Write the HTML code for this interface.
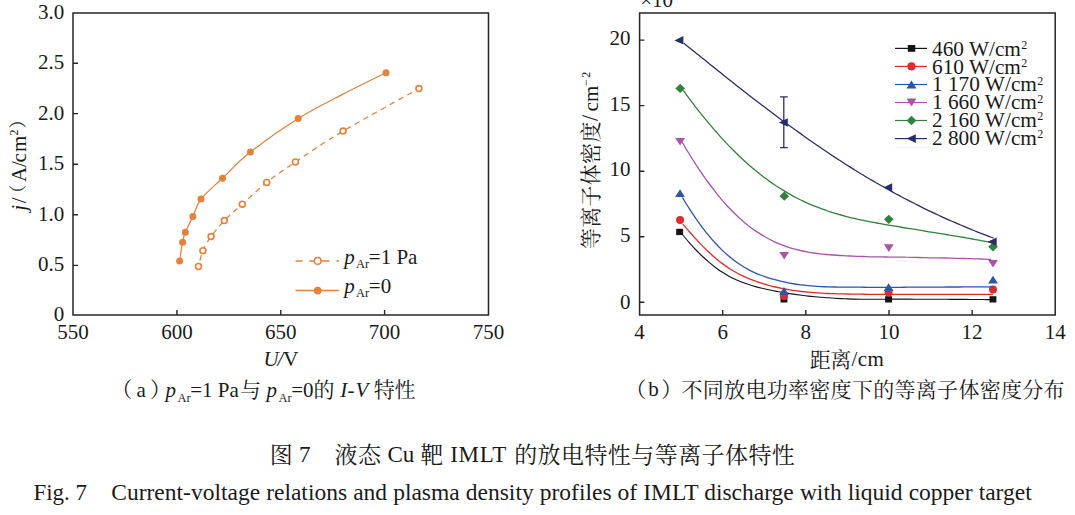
<!DOCTYPE html>
<html><head><meta charset="utf-8"><title>Fig. 7</title>
<style>
html,body{margin:0;padding:0;background:#fff;}
svg{display:block;}
text{font-family:"Liberation Serif","Noto Serif CJK SC",serif;fill:#1a1a1a;}
</style></head><body>
<svg width="1075" height="515" viewBox="0 0 1075 515">
<desc>图 7 液态 Cu 靶 IMLT 的放电特性与等离子体特性; (a) pAr=1 Pa与pAr=0的I-V特性; (b) 不同放电功率密度下的等离子体密度分布; 等离子体密度/cm-2; 距离/cm</desc>
<rect width="1075" height="515" fill="#fff"/>
<rect x="73.0" y="13.0" width="415.5" height="302.0" fill="none" stroke="#262626" stroke-width="1.5"/>
<path d="M73.0 265.4h5M73.0 214.8h5M73.0 164.3h5M73.0 113.6h5M73.0 63.3h5M176.9 315.0v-5M280.8 315.0v-5M384.6 315.0v-5" stroke="#262626" stroke-width="1.4" fill="none"/>
<text x="64.2" y="321.2" style="font-size:21px;" text-anchor="end">0</text>
<text x="64.2" y="270.9" style="font-size:21px;" text-anchor="end">0.5</text>
<text x="64.2" y="220.5" style="font-size:21px;" text-anchor="end">1.0</text>
<text x="64.2" y="170.2" style="font-size:21px;" text-anchor="end">1.5</text>
<text x="64.2" y="119.9" style="font-size:21px;" text-anchor="end">2.0</text>
<text x="64.2" y="68.7" style="font-size:21px;" text-anchor="end">2.5</text>
<text x="64.2" y="19.2" style="font-size:21px;" text-anchor="end">3.0</text>
<text x="73.0" y="338.6" style="font-size:21px;" text-anchor="middle">550</text>
<text x="176.9" y="338.6" style="font-size:21px;" text-anchor="middle">600</text>
<text x="280.8" y="338.6" style="font-size:21px;" text-anchor="middle">650</text>
<text x="384.6" y="338.6" style="font-size:21px;" text-anchor="middle">700</text>
<text x="488.5" y="338.6" style="font-size:21px;" text-anchor="middle">750</text>
<path d="M386 72.8C378.8 76.4 357.1 86.8 342.5 94.4C327.9 102.0 313.6 108.9 298.2 118.5C282.8 128.1 263.0 142.2 250.4 152.1C237.8 162.0 230.7 170.4 222.5 178.2C214.3 186.0 205.9 192.7 201 199.1C196.1 205.5 195.5 211.1 192.9 216.6C190.3 222.1 187.0 228.0 185.3 232.3C183.6 236.6 183.6 237.4 182.6 242.2C181.6 247.0 180.1 257.8 179.6 260.9" fill="none" stroke="#e5813b" stroke-width="1.25"/>
<path d="M418.9 88.6C406.3 95.7 363.7 118.9 343.1 131.1C322.5 143.3 308.1 153.4 295.4 162C282.7 170.6 275.5 175.5 266.7 182.5C257.9 189.5 249.4 197.8 242.3 204.2C235.2 210.5 229.5 215.2 224.3 220.6C219.1 226.0 214.7 231.6 211.1 236.6C207.5 241.6 205.0 245.7 202.9 250.7C200.8 255.7 199.2 263.9 198.5 266.5" fill="none" stroke="#e5813b" stroke-width="1.25" stroke-dasharray="5.5 4.5" stroke-dashoffset="2"/>
<circle cx="386" cy="72.8" r="3.5" fill="#e5813b"/>
<circle cx="298.2" cy="118.5" r="3.5" fill="#e5813b"/>
<circle cx="250.4" cy="152.1" r="3.5" fill="#e5813b"/>
<circle cx="222.5" cy="178.2" r="3.5" fill="#e5813b"/>
<circle cx="201" cy="199.1" r="3.5" fill="#e5813b"/>
<circle cx="192.9" cy="216.6" r="3.5" fill="#e5813b"/>
<circle cx="185.3" cy="232.3" r="3.5" fill="#e5813b"/>
<circle cx="182.6" cy="242.2" r="3.5" fill="#e5813b"/>
<circle cx="179.6" cy="260.9" r="3.5" fill="#e5813b"/>
<circle cx="418.9" cy="88.6" r="2.95" fill="#fff" stroke="#e5813b" stroke-width="1.6"/>
<circle cx="343.1" cy="131.1" r="2.95" fill="#fff" stroke="#e5813b" stroke-width="1.6"/>
<circle cx="295.4" cy="162" r="2.95" fill="#fff" stroke="#e5813b" stroke-width="1.6"/>
<circle cx="266.7" cy="182.5" r="2.95" fill="#fff" stroke="#e5813b" stroke-width="1.6"/>
<circle cx="242.3" cy="204.2" r="2.95" fill="#fff" stroke="#e5813b" stroke-width="1.6"/>
<circle cx="224.3" cy="220.6" r="2.95" fill="#fff" stroke="#e5813b" stroke-width="1.6"/>
<circle cx="211.1" cy="236.6" r="2.95" fill="#fff" stroke="#e5813b" stroke-width="1.6"/>
<circle cx="202.9" cy="250.7" r="2.95" fill="#fff" stroke="#e5813b" stroke-width="1.6"/>
<circle cx="198.5" cy="266.5" r="2.95" fill="#fff" stroke="#e5813b" stroke-width="1.6"/>
<path d="M295.5 260.9h7M309.5 260.9h20M336.5 260.9h2.5M295.5 290.6h43.5" stroke="#e5813b" stroke-width="1.5" fill="none"/>
<circle cx="317.7" cy="260.9" r="3.3" fill="#fff" stroke="#e5813b" stroke-width="1.5"/>
<circle cx="317.7" cy="290.6" r="3.9" fill="#e5813b"/>
<text x="344.2" y="263.8" style="font-size:21px;font-style:italic;">p</text>
<text x="356.0" y="268.1" style="font-size:12.5px;">Ar</text>
<text x="368.8" y="263.8" style="font-size:21px;">=1 Pa</text>
<text x="344.2" y="293.0" style="font-size:21px;font-style:italic;">p</text>
<text x="356.0" y="297.3" style="font-size:12.5px;">Ar</text>
<text x="368.8" y="293.0" style="font-size:21px;">=0</text>
<g transform="translate(25.6,212) rotate(-90)">
<text x="1.3" y="0" style="font-size:21px;font-style:italic;">j</text>
<text x="8.7" y="0" style="font-size:21px;">/</text>
<text x="30.0" y="0" style="font-size:21px;">A</text>
<text x="44.9" y="0" style="font-size:21px;">/</text>
<text x="49.6" y="0" style="font-size:21px;">c</text>
<text x="59.9" y="0" style="font-size:21px;">m</text>
<text x="76.4" y="-7.5" style="font-size:12px;">2</text>
</g>
<text transform="translate(24.0,202.6) rotate(-90)" x="0" y="0" style="font-size:18px;">（</text>
<text transform="translate(24.0,128.4) rotate(-90)" x="0" y="0" style="font-size:18px;">）</text>
<text x="263.4" y="366.0" style="font-size:21px;font-style:italic;">U</text>
<text x="277.6" y="366.0" style="font-size:21px;font-style:italic;">/</text>
<text x="283.0" y="366.0" style="font-size:21.5px;">V</text>
<text x="111.33" y="397.4" style="font-size:21px;">（</text>
<text x="136.4" y="396.6" style="font-size:21px;">a</text>
<text x="150.08" y="397.4" style="font-size:21px;">）</text>
<text x="165.6" y="396.6" style="font-size:21px;font-style:italic;">p</text>
<text x="177.4" y="402.0" style="font-size:12.5px;">Ar</text>
<text x="190.2" y="396.6" style="font-size:21px;">=1 Pa</text>
<text x="240.06" y="397.4" style="font-size:21px;">与</text>
<text x="266.6" y="396.6" style="font-size:21px;font-style:italic;">p</text>
<text x="278.4" y="402.0" style="font-size:12.5px;">Ar</text>
<text x="291.2" y="396.6" style="font-size:21px;">=0</text>
<text x="313.51" y="397.4" style="font-size:21px;">的</text>
<text x="340.2" y="396.6" style="font-size:21px;font-style:italic;">I</text>
<text x="347.6" y="396.6" style="font-size:21px;font-style:italic;">-</text>
<text x="355.4" y="396.6" style="font-size:21px;font-style:italic;">V</text>
<text x="373.63" y="397.4" style="font-size:21px;" letter-spacing="-0.17">特性</text>
<rect x="639.6" y="13.0" width="415.6" height="302.0" fill="none" stroke="#262626" stroke-width="1.5"/>
<path d="M639.6 302.2h4.8M639.6 236.7h4.8M639.6 171.2h4.8M639.6 105.6h4.8M639.6 40.1h4.8M722.7 315.0v-5M805.8 315.0v-5M889.0 315.0v-5M972.1 315.0v-5" stroke="#262626" stroke-width="1.4" fill="none"/>
<text x="630.6" y="308.6" style="font-size:21px;" text-anchor="end">0</text>
<text x="630.6" y="241.9" style="font-size:21px;" text-anchor="end">5</text>
<text x="630.6" y="176.3" style="font-size:21px;" text-anchor="end">10</text>
<text x="630.6" y="110.8" style="font-size:21px;" text-anchor="end">15</text>
<text x="630.6" y="45.3" style="font-size:21px;" text-anchor="end">20</text>
<text x="639.6" y="338.6" style="font-size:21px;" text-anchor="middle">4</text>
<text x="722.7" y="338.6" style="font-size:21px;" text-anchor="middle">6</text>
<text x="805.8" y="338.6" style="font-size:21px;" text-anchor="middle">8</text>
<text x="889.0" y="338.6" style="font-size:21px;" text-anchor="middle">10</text>
<text x="972.1" y="338.6" style="font-size:21px;" text-anchor="middle">12</text>
<text x="1055.2" y="338.6" style="font-size:21px;" text-anchor="middle">14</text>
<text x="640.2" y="7.0" style="font-size:21px;">×10</text>
<path d="M682.8 235.0C683.9 236.3 687.2 240.3 689.4 242.8C691.6 245.3 693.8 247.7 696.0 250.0C698.2 252.3 700.4 254.4 702.6 256.5C704.8 258.6 707.0 260.5 709.2 262.4C711.4 264.3 713.6 266.0 715.8 267.7C718.0 269.4 720.2 270.9 722.4 272.3C724.6 273.7 726.8 275.0 729.0 276.2C731.2 277.4 733.4 278.5 735.6 279.5C737.8 280.5 740.0 281.4 742.2 282.3C744.4 283.2 746.6 283.9 748.8 284.6C751.0 285.3 753.2 286.0 755.4 286.6C757.6 287.2 759.8 287.7 762.0 288.2C764.2 288.7 766.4 289.2 768.6 289.7C770.8 290.2 773.0 290.7 775.2 291.1C777.4 291.5 779.6 291.9 781.8 292.3C784.0 292.7 786.2 293.0 788.4 293.4C790.6 293.8 792.8 294.1 795.0 294.4C797.2 294.7 799.4 295.0 801.6 295.3C803.8 295.6 806.0 295.9 808.2 296.1C810.4 296.4 812.6 296.6 814.8 296.8C817.0 297.0 819.2 297.1 821.4 297.3C823.6 297.5 825.8 297.6 828.0 297.8C830.2 298.0 832.4 298.2 834.6 298.3C836.8 298.4 839.0 298.5 841.2 298.6C843.4 298.7 845.6 298.8 847.8 298.9C850.0 299.0 852.2 299.1 854.4 299.1C856.6 299.2 858.8 299.2 861.0 299.2C863.2 299.2 865.4 299.3 867.6 299.3C869.8 299.3 872.0 299.3 874.2 299.3C876.4 299.3 878.6 299.2 880.8 299.2C883.0 299.2 885.2 299.2 887.4 299.2C889.6 299.2 891.8 299.1 894.0 299.1C896.2 299.1 898.4 299.1 900.6 299.1C902.8 299.1 905.0 299.1 907.2 299.1C909.4 299.1 911.6 299.2 913.8 299.2C916.0 299.2 918.2 299.2 920.4 299.2C922.6 299.2 924.8 299.2 927.0 299.2C929.2 299.2 931.4 299.3 933.6 299.3C935.8 299.3 938.0 299.3 940.2 299.3C942.4 299.3 944.6 299.3 946.8 299.3C949.0 299.3 951.2 299.4 953.4 299.4C955.6 299.4 957.8 299.4 960.0 299.4C962.2 299.4 964.4 299.4 966.6 299.4C968.8 299.4 971.0 299.5 973.2 299.5C975.4 299.5 977.6 299.5 979.8 299.5C982.0 299.5 984.2 299.6 986.4 299.6C988.6 299.6 991.9 299.6 993.0 299.6" fill="none" stroke="#141414" stroke-width="1.1"/>
<rect x="676.2" y="228.8" width="6.9" height="6.3" fill="#141414"/>
<rect x="780.5" y="296.2" width="6.9" height="6.3" fill="#141414"/>
<rect x="885.1" y="296.2" width="6.9" height="6.3" fill="#141414"/>
<rect x="989.5" y="296.2" width="6.9" height="6.3" fill="#141414"/>
<path d="M682.8 224.1C683.9 225.4 687.2 229.3 689.4 231.8C691.6 234.3 693.8 236.7 696.0 239.1C698.2 241.5 700.4 243.9 702.6 246.1C704.8 248.3 707.0 250.4 709.2 252.5C711.4 254.6 713.6 256.5 715.8 258.4C718.0 260.2 720.2 262.0 722.4 263.6C724.6 265.2 726.8 266.8 729.0 268.2C731.2 269.6 733.4 271.0 735.6 272.2C737.8 273.4 740.0 274.5 742.2 275.6C744.4 276.7 746.6 277.7 748.8 278.6C751.0 279.5 753.2 280.4 755.4 281.2C757.6 282.0 759.8 282.7 762.0 283.4C764.2 284.1 766.4 284.7 768.6 285.3C770.8 285.9 773.0 286.5 775.2 287.0C777.4 287.5 779.6 288.0 781.8 288.4C784.0 288.8 786.2 289.2 788.4 289.6C790.6 290.0 792.8 290.3 795.0 290.6C797.2 290.9 799.4 291.2 801.6 291.5C803.8 291.8 806.0 292.0 808.2 292.2C810.4 292.4 812.6 292.5 814.8 292.7C817.0 292.9 819.2 293.0 821.4 293.1C823.6 293.2 825.8 293.4 828.0 293.5C830.2 293.6 832.4 293.6 834.6 293.7C836.8 293.8 839.0 293.8 841.2 293.9C843.4 293.9 845.6 294.0 847.8 294.0C850.0 294.0 852.2 294.1 854.4 294.1C856.6 294.1 858.8 294.2 861.0 294.2C863.2 294.2 865.4 294.3 867.6 294.3C869.8 294.3 872.0 294.3 874.2 294.3C876.4 294.3 878.6 294.4 880.8 294.4C883.0 294.4 885.2 294.4 887.4 294.4C889.6 294.4 891.8 294.4 894.0 294.4C896.2 294.4 898.4 294.4 900.6 294.4C902.8 294.4 905.0 294.4 907.2 294.4C909.4 294.4 911.6 294.4 913.8 294.4C916.0 294.4 918.2 294.4 920.4 294.4C922.6 294.4 924.8 294.4 927.0 294.4C929.2 294.4 931.4 294.4 933.6 294.4C935.8 294.4 938.0 294.4 940.2 294.4C942.4 294.4 944.6 294.4 946.8 294.4C949.0 294.4 951.2 294.4 953.4 294.4C955.6 294.4 957.8 294.4 960.0 294.4C962.2 294.4 964.4 294.4 966.6 294.4C968.8 294.4 971.0 294.4 973.2 294.4C975.4 294.4 977.6 294.4 979.8 294.4C982.0 294.4 984.2 294.4 986.4 294.4C988.6 294.4 991.9 294.4 993.0 294.4" fill="none" stroke="#df2b2e" stroke-width="1.3"/>
<circle cx="680.05" cy="220.1" r="4.0" fill="#df2b2e"/>
<circle cx="784" cy="296.0" r="4.0" fill="#df2b2e"/>
<circle cx="888.6" cy="292.4" r="4.0" fill="#df2b2e"/>
<circle cx="993" cy="289.4" r="4.0" fill="#df2b2e"/>
<path d="M682.4 197.5C683.5 199.3 686.8 204.8 689.0 208.2C691.2 211.6 693.4 215.0 695.6 218.2C697.8 221.4 700.0 224.4 702.2 227.3C704.4 230.2 706.6 233.0 708.8 235.7C711.0 238.4 713.2 240.9 715.4 243.3C717.6 245.7 719.9 248.0 722.1 250.1C724.3 252.2 726.5 254.2 728.7 256.1C730.9 258.0 733.1 259.7 735.3 261.3C737.5 262.9 739.7 264.4 741.9 265.8C744.1 267.2 746.3 268.4 748.5 269.6C750.7 270.8 752.9 271.8 755.1 272.8C757.3 273.8 759.5 274.7 761.7 275.5C763.9 276.3 766.1 277.1 768.3 277.8C770.5 278.5 772.7 279.1 774.9 279.7C777.1 280.3 779.3 280.9 781.5 281.4C783.7 281.9 785.9 282.4 788.1 282.8C790.3 283.2 792.5 283.6 794.7 284.0C796.9 284.4 799.2 284.6 801.4 284.9C803.6 285.2 805.8 285.4 808.0 285.6C810.2 285.8 812.4 286.0 814.6 286.2C816.8 286.4 819.0 286.5 821.2 286.6C823.4 286.7 825.6 286.8 827.8 286.9C830.0 287.0 832.2 287.0 834.4 287.0C836.6 287.0 838.8 287.1 841.0 287.1C843.2 287.1 845.4 287.2 847.6 287.2C849.8 287.2 852.0 287.2 854.2 287.2C856.4 287.2 858.6 287.2 860.8 287.2C863.0 287.2 865.2 287.3 867.4 287.3C869.6 287.3 871.8 287.3 874.0 287.3C876.2 287.3 878.5 287.3 880.7 287.3C882.9 287.3 885.1 287.3 887.3 287.3C889.5 287.3 891.7 287.3 893.9 287.3C896.1 287.3 898.3 287.3 900.5 287.3C902.7 287.3 904.9 287.2 907.1 287.2C909.3 287.2 911.5 287.2 913.7 287.2C915.9 287.2 918.1 287.2 920.3 287.2C922.5 287.2 924.7 287.1 926.9 287.1C929.1 287.1 931.3 287.1 933.5 287.1C935.7 287.1 937.9 287.1 940.1 287.1C942.3 287.1 944.5 287.0 946.7 287.0C948.9 287.0 951.1 287.0 953.3 287.0C955.5 287.0 957.8 287.0 960.0 287.0C962.2 287.0 964.4 286.9 966.6 286.9C968.8 286.9 971.0 286.9 973.2 286.9C975.4 286.9 977.6 286.8 979.8 286.8C982.0 286.8 984.2 286.8 986.4 286.8C988.6 286.8 991.9 286.8 993.0 286.8" fill="none" stroke="#2b55a6" stroke-width="1.3"/>
<path d="M680.05 189.3L684.9 197.1H675.1Z" fill="#2b55a6"/>
<path d="M784 287.0L788.9 294.8H779.1Z" fill="#2b55a6"/>
<path d="M888.6 283.2L893.5 291.0H883.7Z" fill="#2b55a6"/>
<path d="M993 275.8L997.9 283.6H988.1Z" fill="#2b55a6"/>
<path d="M682.0 142.0C683.1 143.8 686.4 149.4 688.6 153.0C690.8 156.6 692.9 160.0 695.1 163.4C697.3 166.8 699.5 170.1 701.7 173.3C703.9 176.5 706.1 179.5 708.3 182.5C710.5 185.5 712.7 188.4 714.9 191.2C717.1 194.0 719.2 196.7 721.4 199.3C723.6 201.9 725.8 204.3 728.0 206.7C730.2 209.1 732.4 211.3 734.6 213.5C736.8 215.7 739.0 217.7 741.2 219.6C743.4 221.5 745.5 223.4 747.7 225.2C749.9 226.9 752.1 228.6 754.3 230.1C756.5 231.6 758.7 233.0 760.9 234.4C763.1 235.8 765.3 237.1 767.5 238.3C769.7 239.5 771.8 240.6 774.0 241.6C776.2 242.6 778.4 243.5 780.6 244.4C782.8 245.3 785.0 246.1 787.2 246.8C789.4 247.5 791.6 248.2 793.8 248.8C796.0 249.4 798.1 250.0 800.3 250.5C802.5 251.0 804.7 251.5 806.9 251.9C809.1 252.3 811.3 252.7 813.5 253.0C815.7 253.3 817.9 253.6 820.1 253.8C822.3 254.1 824.4 254.3 826.6 254.5C828.8 254.7 831.0 254.8 833.2 255.0C835.4 255.2 837.6 255.4 839.8 255.5C842.0 255.6 844.2 255.7 846.4 255.8C848.6 255.9 850.7 256.1 852.9 256.2C855.1 256.3 857.3 256.3 859.5 256.4C861.7 256.5 863.9 256.5 866.1 256.6C868.3 256.7 870.5 256.8 872.7 256.8C874.9 256.9 877.0 256.9 879.2 256.9C881.4 256.9 883.6 257.0 885.8 257.0C888.0 257.0 890.2 257.1 892.4 257.1C894.6 257.1 896.8 257.1 899.0 257.1C901.2 257.1 903.3 257.1 905.5 257.2C907.7 257.2 909.9 257.3 912.1 257.4C914.3 257.4 916.5 257.5 918.7 257.5C920.9 257.5 923.1 257.6 925.3 257.6C927.5 257.7 929.6 257.8 931.8 257.8C934.0 257.9 936.2 257.9 938.4 257.9C940.6 257.9 942.8 257.9 945.0 258.0C947.2 258.1 949.4 258.1 951.6 258.2C953.8 258.3 955.9 258.3 958.1 258.4C960.3 258.4 962.5 258.4 964.7 258.5C966.9 258.6 969.1 258.6 971.3 258.7C973.5 258.8 975.7 258.8 977.9 258.9C980.1 259.0 982.2 259.0 984.4 259.1C986.6 259.2 989.9 259.3 991.0 259.3" fill="none" stroke="#a855a8" stroke-width="1.3"/>
<path d="M680.1 145.6L685.0 138.0H675.2Z" fill="#a855a8"/>
<path d="M784.2 259.5L789.1 251.9H779.3Z" fill="#a855a8"/>
<path d="M888.8 251.9L893.7 244.3H883.9Z" fill="#a855a8"/>
<path d="M993 267.5L997.9 259.9H988.1Z" fill="#a855a8"/>
<path d="M683.2 90.4C684.3 91.9 687.6 96.4 689.8 99.3C692.0 102.2 694.1 105.1 696.3 107.9C698.5 110.7 700.7 113.5 702.9 116.2C705.1 118.9 707.3 121.5 709.5 124.1C711.7 126.7 713.9 129.3 716.1 131.8C718.3 134.3 720.4 136.7 722.6 139.1C724.8 141.5 727.0 143.8 729.2 146.1C731.4 148.4 733.6 150.5 735.8 152.7C738.0 154.8 740.1 157.0 742.3 159.0C744.5 161.0 746.7 163.0 748.9 164.9C751.1 166.8 753.3 168.7 755.5 170.5C757.7 172.3 759.8 174.0 762.0 175.7C764.2 177.4 766.4 179.0 768.6 180.6C770.8 182.2 773.0 183.7 775.2 185.2C777.4 186.7 779.6 188.0 781.8 189.4C784.0 190.8 786.1 192.1 788.3 193.4C790.5 194.7 792.7 195.8 794.9 197.0C797.1 198.2 799.3 199.2 801.5 200.3C803.7 201.4 805.8 202.4 808.0 203.4C810.2 204.4 812.4 205.3 814.6 206.2C816.8 207.1 819.0 207.9 821.2 208.7C823.4 209.5 825.5 210.3 827.7 211.0C829.9 211.7 832.1 212.4 834.3 213.1C836.5 213.8 838.7 214.4 840.9 215.0C843.1 215.6 845.3 216.2 847.5 216.8C849.7 217.4 851.8 217.9 854.0 218.4C856.2 218.9 858.4 219.3 860.6 219.8C862.8 220.3 865.0 220.8 867.2 221.2C869.4 221.6 871.5 222.0 873.7 222.4C875.9 222.8 878.1 223.2 880.3 223.6C882.5 224.0 884.7 224.4 886.9 224.8C889.1 225.2 891.2 225.5 893.4 225.9C895.6 226.3 897.8 226.6 900.0 227.0C902.2 227.4 904.4 227.8 906.6 228.1C908.8 228.4 911.0 228.8 913.2 229.1C915.4 229.4 917.5 229.8 919.7 230.2C921.9 230.6 924.1 231.0 926.3 231.3C928.5 231.7 930.7 232.0 932.9 232.3C935.1 232.7 937.2 233.0 939.4 233.4C941.6 233.8 943.8 234.1 946.0 234.5C948.2 234.9 950.4 235.2 952.6 235.6C954.8 236.0 956.9 236.3 959.1 236.7C961.3 237.1 963.5 237.4 965.7 237.8C967.9 238.2 970.1 238.6 972.3 239.0C974.5 239.4 976.7 239.8 978.9 240.2C981.1 240.6 983.2 241.0 985.4 241.4C987.6 241.8 990.9 242.5 992.0 242.7" fill="none" stroke="#33803f" stroke-width="1.3"/>
<path d="M680.2 83.8L685.0 88.4L680.2 93.0L675.4 88.4Z" fill="#33803f"/>
<path d="M784.3 191.6L789.1 196.2L784.3 200.8L779.5 196.2Z" fill="#33803f"/>
<path d="M888.8 214.7L893.6 219.3L888.8 223.9L884.0 219.3Z" fill="#33803f"/>
<path d="M993 242.2L997.8 246.8L993 251.4L988.2 246.8Z" fill="#33803f"/>
<path d="M683.7 43.1C684.8 44.0 688.1 46.6 690.3 48.4C692.5 50.2 694.7 52.0 696.9 53.8C699.1 55.6 701.3 57.3 703.5 59.1C705.7 60.9 707.9 62.6 710.1 64.4C712.3 66.2 714.5 67.9 716.7 69.7C718.9 71.5 721.1 73.2 723.3 75.0C725.5 76.8 727.7 78.5 729.9 80.2C732.1 81.9 734.2 83.7 736.4 85.4C738.6 87.1 740.8 88.9 743.0 90.6C745.2 92.3 747.4 94.0 749.6 95.7C751.8 97.4 754.0 99.1 756.2 100.8C758.4 102.5 760.6 104.1 762.8 105.8C765.0 107.5 767.2 109.1 769.4 110.8C771.6 112.5 773.8 114.1 776.0 115.8C778.2 117.5 780.4 119.1 782.6 120.7C784.8 122.3 787.0 123.9 789.2 125.5C791.4 127.1 793.6 128.7 795.8 130.3C798.0 131.9 800.2 133.4 802.4 135.0C804.6 136.6 806.8 138.2 809.0 139.7C811.2 141.2 813.4 142.7 815.6 144.2C817.8 145.7 820.0 147.3 822.2 148.8C824.4 150.3 826.6 151.7 828.8 153.2C831.0 154.7 833.2 156.2 835.4 157.6C837.6 159.0 839.7 160.4 841.9 161.8C844.1 163.2 846.3 164.7 848.5 166.1C850.7 167.5 852.9 168.8 855.1 170.2C857.3 171.5 859.5 172.9 861.7 174.2C863.9 175.5 866.1 176.9 868.3 178.2C870.5 179.5 872.7 180.7 874.9 182.0C877.1 183.3 879.3 184.6 881.5 185.8C883.7 187.1 885.9 188.3 888.1 189.5C890.3 190.7 892.5 192.0 894.7 193.2C896.9 194.4 899.1 195.5 901.3 196.7C903.5 197.9 905.7 199.1 907.9 200.2C910.1 201.3 912.3 202.4 914.5 203.5C916.7 204.6 918.9 205.8 921.1 206.9C923.3 208.0 925.5 209.1 927.7 210.1C929.9 211.1 932.1 212.2 934.3 213.2C936.5 214.2 938.7 215.3 940.9 216.3C943.1 217.3 945.2 218.3 947.4 219.3C949.6 220.3 951.8 221.2 954.0 222.2C956.2 223.1 958.4 224.1 960.6 225.0C962.8 225.9 965.0 226.9 967.2 227.8C969.4 228.7 971.6 229.6 973.8 230.5C976.0 231.4 978.2 232.2 980.4 233.1C982.6 233.9 984.8 234.8 987.0 235.6C989.2 236.4 992.5 237.7 993.6 238.1" fill="none" stroke="#2a2d66" stroke-width="1.3"/>
<path d="M783.8 96.8V147.6M780 96.8h7.8M780 147.6h7.8" stroke="#2a2d66" stroke-width="1.3" fill="none"/>
<path d="M674.4 40.4L683.4 36.1V44.6Z" fill="#2a2d66"/>
<path d="M778.8 122.6L787.8 118.3V126.8Z" fill="#2a2d66"/>
<path d="M883.2 187.6L892.2 183.3V191.8Z" fill="#2a2d66"/>
<path d="M987.7 241.8L996.7 237.6V246.1Z" fill="#2a2d66"/>
<path d="M895 48.4H927" stroke="#141414" stroke-width="1.2"/>
<rect x="907.8" y="45.0" width="7.5" height="6.8" fill="#141414"/>
<text x="932.0" y="55.5" style="font-size:21.3px;">460 W/cm</text>
<text x="1021.2" y="48.8" style="font-size:12px;">2</text>
<path d="M895 66.4H927" stroke="#df2b2e" stroke-width="1.2"/>
<circle cx="911.5" cy="66.4" r="4.1" fill="#df2b2e"/>
<text x="932.0" y="73.5" style="font-size:21.3px;">610 W/cm</text>
<text x="1021.2" y="66.8" style="font-size:12px;">2</text>
<path d="M895 84.5H927" stroke="#2b55a6" stroke-width="1.2"/>
<path d="M911.5 80.4L916.5 88.4H906.5Z" fill="#2b55a6"/>
<text x="932.0" y="91.4" style="font-size:21.3px;">1 170 W/cm</text>
<text x="1037.2" y="84.7" style="font-size:12px;">2</text>
<path d="M895 102.5H927" stroke="#a855a8" stroke-width="1.2"/>
<path d="M911.5 106.4L916.5 98.6H906.5Z" fill="#a855a8"/>
<text x="932.0" y="109.3" style="font-size:21.3px;">1 660 W/cm</text>
<text x="1037.2" y="102.6" style="font-size:12px;">2</text>
<path d="M895 120.5H927" stroke="#33803f" stroke-width="1.2"/>
<path d="M911.5 115.8L916.4 120.5L911.5 125.2L906.6 120.5Z" fill="#33803f"/>
<text x="932.0" y="126.8" style="font-size:21.3px;">2 160 W/cm</text>
<text x="1037.2" y="120.1" style="font-size:12px;">2</text>
<path d="M895 138.6H927" stroke="#2a2d66" stroke-width="1.2"/>
<path d="M906.6 138.6L915.8 134.3V142.9Z" fill="#2a2d66"/>
<text x="932.0" y="144.6" style="font-size:21.3px;">2 800 W/cm</text>
<text x="1037.2" y="137.9" style="font-size:12px;">2</text>
<path d="M895 147.4H929" stroke="#f0f0f0" stroke-width="0.8"/>
<text transform="translate(597.7,248.9) rotate(-90)" x="0 21.2 42.4 63.6 84.8 106.5" y="0" style="font-size:21px;">等离子体密度</text>
<path d="M582.4 115.4L597.8 120.5" stroke="#1a1a1a" stroke-width="1.1"/>
<g transform="translate(598.0,121.6) rotate(-90)">
<text x="10.2" y="0" style="font-size:21px;">cm</text>
<text x="35.6" y="-8.3" style="font-size:12px;">−</text>
<text x="43.9" y="-8.3" style="font-size:12px;">2</text>
</g>
<text x="809.87" y="366.9" style="font-size:21px;" letter-spacing="-0.5">距离</text>
<text x="851.6" y="366.1" style="font-size:21px;" letter-spacing="0.35">/cm</text>
<text x="625.33" y="397.2" style="font-size:21px;">（</text>
<text x="648.2" y="396.4" style="font-size:21px;">b</text>
<text x="661.28" y="397.2" style="font-size:21px;">）</text>
<text x="681.5" y="397.2" style="font-size:21px;" letter-spacing="0.3">不同放电功率密度下的等离子体密度分布</text>
<text x="269.87" y="462.5" style="font-size:23px;">图</text>
<text x="299.0" y="462.4" style="font-size:23px;">7</text>
<text x="334.6" y="462.5" style="font-size:23px;" letter-spacing="0.4">液态</text>
<text x="387.4" y="462.4" style="font-size:23px;">Cu</text>
<text x="420.2" y="462.5" style="font-size:23px;">靶</text>
<text x="450.2" y="462.4" style="font-size:23px;" letter-spacing="0.7">IMLT</text>
<text x="514.2" y="462.5" style="font-size:23px;" letter-spacing="0.42">的放电特性与等离子体特性</text>
<text x="33.4" y="499.8" style="font-size:23px;">Fig. 7</text>
<text x="111.3" y="499.8" style="font-size:23.5px;" word-spacing="0.2">Current-voltage relations and plasma density profiles of IMLT discharge with liquid copper target</text>
</svg>
</body></html>
